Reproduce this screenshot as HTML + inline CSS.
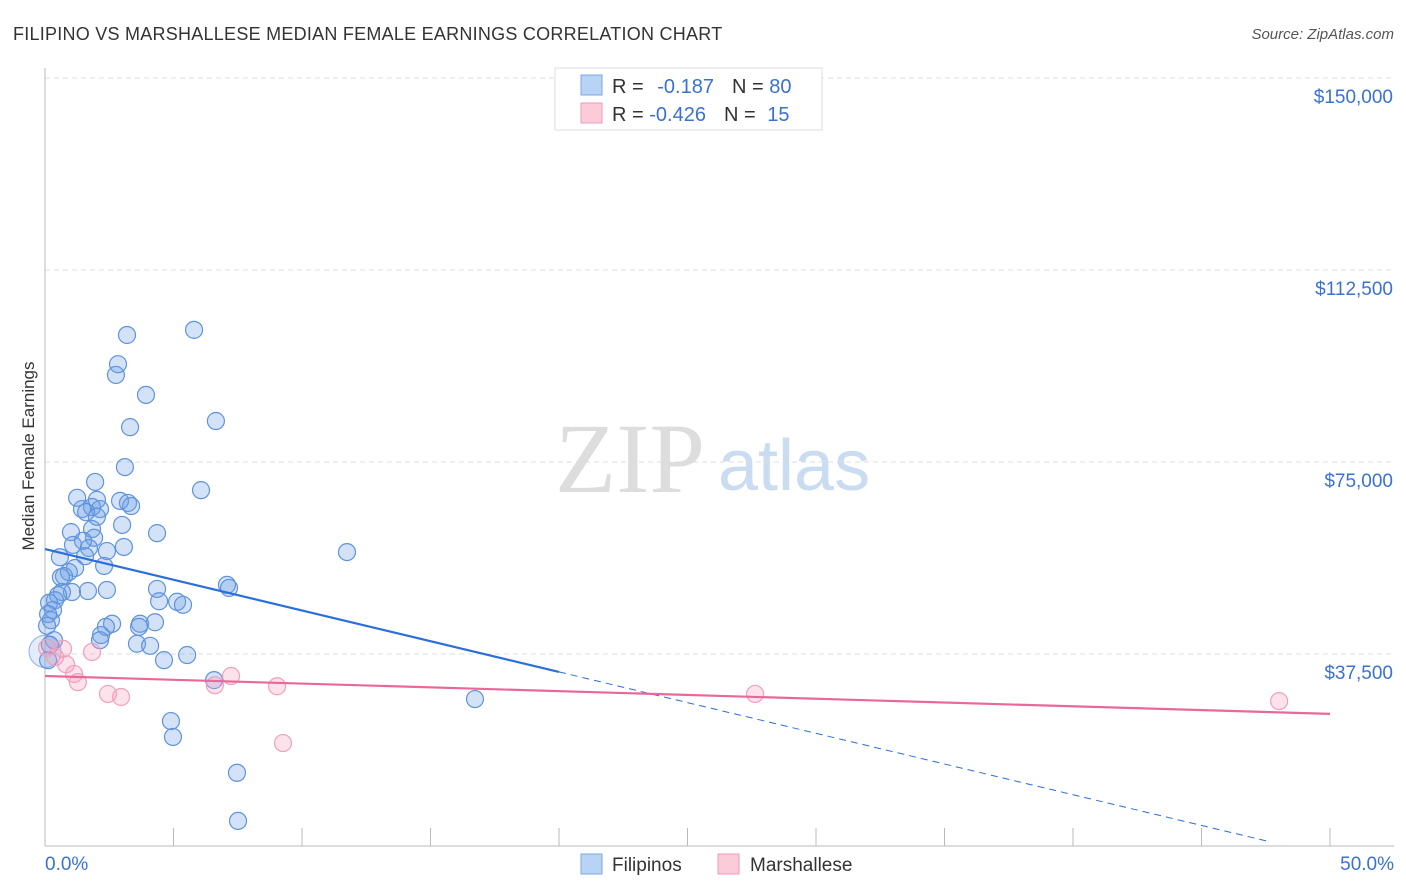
<!DOCTYPE html>
<html><head><meta charset="utf-8"><style>
body{margin:0;background:#fff;font-family:"Liberation Sans",sans-serif;}
#wrap{position:relative;width:1406px;height:892px;overflow:hidden;}
</style></head><body>
<div id="wrap">
<svg id="svg" width="1406" height="892" xmlns="http://www.w3.org/2000/svg">
<text x="13" y="40" font-size="18" letter-spacing="0.25" fill="#333">FILIPINO VS MARSHALLESE MEDIAN FEMALE EARNINGS CORRELATION CHART</text>
<text x="1394" y="39" font-size="15" fill="#555" text-anchor="end" font-style="italic">Source: ZipAtlas.com</text>
<text x="34" y="456" font-size="17" fill="#333" text-anchor="middle" transform="rotate(-90 34 456)">Median Female Earnings</text>
<text x="555" y="492" font-size="100" fill="#ddd" font-family="Liberation Serif,serif">ZIP</text>
<text x="718" y="490" font-size="72" fill="#c9dcf2">atlas</text>
<g id="grid"></g><g id="axes"></g><g id="marks"></g>
<g>
<rect x="555" y="68" width="267" height="62" fill="#fff" stroke="#ddd"/>
<rect x="581" y="75" width="21" height="20" fill="#b9d3f5" stroke="#7aa7e6"/>
<rect x="581" y="103" width="21" height="20" fill="#fbcbd9" stroke="#f09ab6"/>
<text x="612" y="93" font-size="20" fill="#333">R = <tspan fill="#3a72d0" dx="8">-0.187</tspan><tspan dx="18" fill="#333">N = </tspan><tspan fill="#3a72d0">80</tspan></text>
<text x="612" y="121" font-size="20" fill="#333">R = <tspan fill="#3a72d0">-0.426</tspan><tspan dx="18" fill="#333">N = </tspan><tspan fill="#3a72d0" dx="6">15</tspan></text>
</g>
<g>
<rect x="581" y="854" width="21" height="20" fill="#b9d3f5" stroke="#7aa7e6"/>
<text x="612" y="871" font-size="19" fill="#333">Filipinos</text>
<rect x="718" y="854" width="21" height="20" fill="#fbcbd9" stroke="#f09ab6"/>
<text x="750" y="871" font-size="19" fill="#333">Marshallese</text>
</g>
</svg>
</div>
<script>
const yTicks=[37500,75000,112500,150000];
const yTickLabels=["$37,500","$75,000","$112,500","$150,000"];
const xTicks=[0,5,10,15,20,25,30,35,40,45,50];
const filX=[3.19,5.80,2.84,2.76,3.93,3.31,6.65,3.11,6.07,1.95,1.25,2.02,2.92,3.23,3.35,1.44,1.83,2.14,1.60,2.02,3.00,1.83,1.01,4.36,1.91,1.48,1.09,3.07,1.71,2.41,11.75,1.56,0.58,2.30,1.17,0.93,0.74,0.62,4.36,7.08,7.16,2.41,1.67,1.05,0.66,0.51,0.39,0.16,4.44,5.14,5.37,0.31,0.12,0.23,2.61,3.70,4.28,2.37,0.08,2.18,2.14,3.66,3.58,4.09,5.53,4.63,0.35,0.19,0.12,6.58,16.73,4.90,4.98,7.47,7.51];
const filY=[99800,100800,94100,92000,88100,81800,83000,74000,69500,71100,68000,67600,67400,67000,66400,65800,66200,65800,65200,64300,62700,61900,61300,61100,60200,59600,58800,58400,58200,57600,57400,56600,56400,54700,54300,53500,52700,52500,50200,51000,50400,50000,49800,49600,49600,49000,48000,47500,47800,47700,47100,46100,45300,44100,43400,43400,43700,42800,43000,41200,40200,42800,39500,39100,37300,36300,40200,39300,36300,32400,28700,24400,21300,14300,4900];
const marX=[0.08,0.70,1.83,0.39,0.82,1.13,1.28,2.45,2.96,7.24,6.61,9.03,9.26,27.63,48.02];
const marY=[38700,38500,37900,36900,35500,33600,32000,29700,29100,33200,31400,31200,20100,29700,28300];
const filTrend=[[0,58000],[20,34000],[47.6,900]];
const marTrend=[[0,33200],[50,25800]];
const NS="http://www.w3.org/2000/svg";
const X=v=>45+v*25.7, Y=v=>846-v/195.3;
function mk(tag,attrs,parent){const e=document.createElementNS(NS,tag);for(const k in attrs)e.setAttribute(k,attrs[k]);document.getElementById(parent).appendChild(e);return e;}
yTicks.forEach((t,i)=>{
  const l=mk('line',{x1:45,x2:1394,y1:Y(t),y2:Y(t),stroke:'#ddd','stroke-dasharray':'5,4'},'grid');
  
  
  const tx=mk('text',{x:1393,y:Y(t)+25,'font-size':19,fill:'#3a72d0','text-anchor':'end'},'axes');
  tx.textContent=yTickLabels[i];
  
  
});
const ya=mk('line',{x1:45,x2:45,y1:68,y2:846,stroke:'#bbb'},'axes');


const xa=mk('line',{x1:45,x2:1394,y1:846,y2:846,stroke:'#bbb'},'axes');


xTicks.forEach(t=>{
  const l=mk('line',{x1:X(t),x2:X(t),y1:828,y2:846,stroke:'#bbb'},'axes');
  
  
});
[[0,"0.0%","start",45],[50,"50.0%","end",1394]].forEach(d=>{
  const tx=mk('text',{x:d[3],y:870,'font-size':19,fill:'#3a72d0','text-anchor':d[2]},'axes');
  tx.textContent=d[1];
  
  
});
const big=mk('circle',{cx:X(0),cy:Y(38000),r:16,fill:'rgba(110,160,230,0.2)',stroke:'#8ab0e6'},'marks');


filX.forEach((x,i)=>{
  const c=mk('circle',{cx:X(x),cy:Y(filY[i]),r:8.5,fill:'rgba(110,160,230,0.3)',stroke:'#5f93de','stroke-width':1.2},'marks');
  
  
});
marX.forEach((x,i)=>{
  const c=mk('circle',{cx:X(x),cy:Y(marY[i]),r:8.5,fill:'rgba(245,160,190,0.3)',stroke:'#f0a0bb','stroke-width':1.2},'marks');
  
  
});
const fl=mk('line',{x1:X(filTrend[0][0]),y1:Y(filTrend[0][1]),x2:X(filTrend[1][0]),y2:Y(filTrend[1][1]),stroke:'#2a6fdb','stroke-width':2.2},'marks');


const fd=mk('line',{x1:X(filTrend[1][0]),y1:Y(filTrend[1][1]),x2:X(filTrend[2][0]),y2:Y(filTrend[2][1]),stroke:'#2a6fdb','stroke-width':1,'stroke-dasharray':'7,5'},'marks');


const ml=mk('line',{x1:X(marTrend[0][0]),y1:Y(marTrend[0][1]),x2:X(marTrend[1][0]),y2:Y(marTrend[1][1]),stroke:'#e8689a','stroke-width':2.2},'marks');


</script>
</body></html>
